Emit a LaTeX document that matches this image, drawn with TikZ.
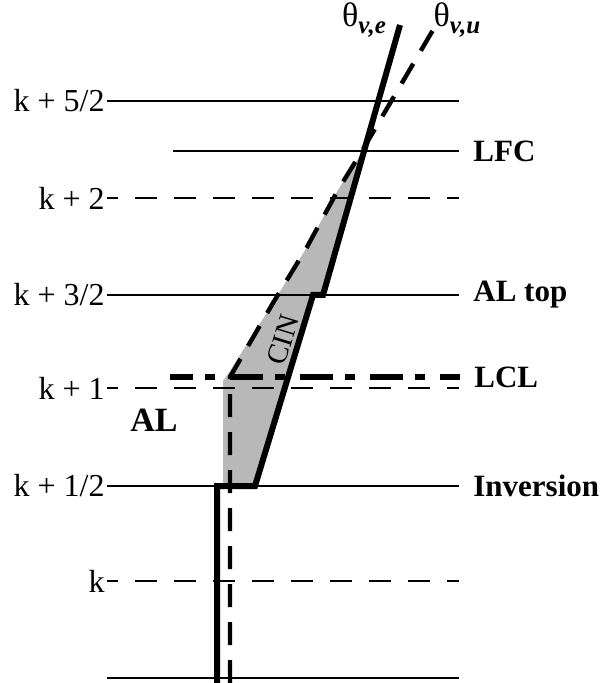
\documentclass[tikz,border=0pt]{standalone}
\usepackage{fontspec}
\setmainfont{Liberation Serif}
\newcommand\thsub[1]{θ\raisebox{-0.5ex}{\fontsize{12.5}{12.5}\selectfont\bfseries\itshape #1}}
\tikzset{
  lvl/.style={line width=1pt},
  lvldash/.style={lvl, dash pattern=on 11pt off 8.5pt, dash phase=5.5pt},
  lab/.style={font=\fontsize{16}{18}\selectfont, inner sep=1pt},
  tag/.style={font=\fontsize{15.5}{18}\selectfont\bfseries, anchor=west, inner xsep=7pt, inner ysep=1pt},
  env/.style={line width=3pt},
  parcel/.style={line width=2.2pt, dash pattern=on 11.5pt off 7.5pt},
  lcldash/.style={line width=3pt, dash pattern=on 16.5pt off 6pt on 5pt off 7.5pt, dash phase=5pt},
}
\begin{document}
\begin{tikzpicture}[x=0.5pt, y=-0.5pt]
\useasboundingbox (0,0) rectangle (602,683);
% CIN area
\fill[black!28] (223,486) -- (255,486) -- (313,295) -- (323,295) -- (363,151)
  -- (338,190) -- (307,247) -- (273,303) -- (228,374) -- (223,381) -- cycle;
% model levels
\foreach \y/\txt/\n/\s in {101/{k + 5/2}/ka/lvl, 198/{k + 2}/kb/lvldash, 295/{k + 3/2}/kc/lvl,
  388/{k + 1}/kd/lvldash, 486/{k + 1/2}/ke/lvl, 581/{k}/kf/lvldash}
{
  \node[lab, anchor=east] (\n) at (107,\y) {\txt};
  \coordinate (\n r) at (459,\y);
  \draw[\s] (\n.east) -- (\n r);
}
\coordinate (bot) at (107,678);
\coordinate (botr) at (459,678);
\draw[lvl] (bot) -- (botr);
% LFC, LCL
\coordinate (lfcl) at (173,151);
\node[tag] (lfc) at (459,151) {LFC};
\draw[lvl] (lfcl) -- (lfc);
\coordinate (lcll) at (170,377);
\node[tag] (lcl) at (460,377) {LCL};
\draw[lcldash] (lcll) -- (lcl);
\node[tag] (altop) at (459,295) {AL top};
\node[tag] (inv) at (459,486) {Inversion};
% profiles
\coordinate (eb) at (217,683);
\coordinate (et) at (400,25);
\coordinate (ub) at (230,683);
\coordinate (ut) at (433,30);
\draw[parcel] (ub) -- (230,377) -- (273,303) -- (307,247) -- (338,190) -- (362,151) -- (ut);
\draw[env] (eb) -- (217,486) -- (255,486) -- (313,295) -- (323,295) -- (et);
\node[font=\fontsize{17}{19}\selectfont, inner sep=0pt] (te) at (364,20) {\thsub{v,e}};
\node[font=\fontsize{17}{19}\selectfont, inner sep=0pt] (tu) at (457,20) {\thsub{v,u}};
\node[font=\fontsize{14.5}{16}\selectfont, rotate=73, inner sep=0pt] (cin) at (283,340) {CIN};
\node[font=\fontsize{17}{19}\selectfont\bfseries, inner sep=0pt] (al) at (154,420) {AL};
\end{tikzpicture}
\end{document}
